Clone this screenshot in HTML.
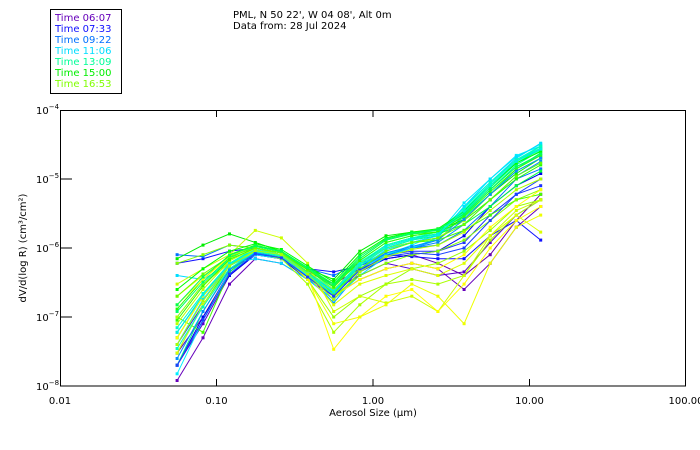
<!DOCTYPE html>
<html><head><meta charset="utf-8"><style>
body{margin:0;background:#fff;}
svg{display:block;font-family:"DejaVu Sans","Liberation Sans",sans-serif;}
</style></head><body>
<svg id="chart" width="700" height="450" viewBox="0 0 700 450" xmlns="http://www.w3.org/2000/svg">
<rect width="700" height="450" fill="#fff"/>
<g>
<rect x="50.5" y="9.5" width="71" height="84" fill="#fff" stroke="#000"/>
<g font-size="10">
<text x="55" y="21" fill="#6600bb">Time 06:07</text>
<text x="55" y="32" fill="#1010ff">Time 07:33</text>
<text x="55" y="43" fill="#0070ff">Time 09:22</text>
<text x="55" y="54" fill="#00ddff">Time 11:06</text>
<text x="55" y="65" fill="#00ff99">Time 13:09</text>
<text x="55" y="76" fill="#00ee00">Time 15:00</text>
<text x="55" y="87" fill="#80ff00">Time 16:53</text>
</g></g>
<text x="233" y="18" font-size="10">PML, N 50 22', W 04 08', Alt 0m</text>
<text x="233" y="29" font-size="10">Data from: 28 Jul 2024</text>
<g id="series"></g>
<rect x="60.5" y="110.5" width="625" height="275.5" fill="none" stroke="#000"/>
<g id="axes"></g>
<text x="373" y="416" font-size="10" text-anchor="middle">Aerosol Size (μm)</text>
<text transform="translate(26,248) rotate(-90)" font-size="10" text-anchor="middle">dV/d(log R) (cm³/cm²)</text>
</svg>
<script>
// sizes (um), values in units of 1e-6 cm3/cm2
const sizes=[0.056,0.082,0.121,0.177,0.26,0.382,0.561,0.823,1.21,1.77,2.6,3.82,5.61,8.23,11.8];
const xTicks=[0.01,0.1,1,10,100];
const xTickLabels=["0.01","0.10","1.00","10.00","100.00"];
const yTickExps=[-4,-5,-6,-7,-8];
const seriesColors=["#6600bb","#5500cc","#6a00aa","#1010ff","#1a30ff","#0000ee","#0070ff","#0088ff","#00a0ff","#00ddff","#00eeff","#00ccee","#00ff99","#00ffaa","#00ff80","#00ee00","#22ff00","#00ff40","#44ff00","#80ff00","#99ff00","#aaff00","#ccff00","#ffff00","#eeff00","#ddff00","#ffff00","#bbff00","#00ffcc","#00e0ff","#00ff66","#00ff00","#33ff00","#00ffbb","#0090ff","#66ff00","#00f0e0","#00ff55","#1a40ff","#aaff00"];
const s1=[0.012,0.05,0.3,0.7,0.6,0.35,0.2,0.35,0.5,0.6,0.5,0.25,0.6,2,4];
const s2=[0.02,0.08,0.4,0.8,0.7,0.4,0.25,0.4,0.6,0.5,0.4,0.45,1.2,3,5];
const s3=[0.03,0.1,0.45,0.85,0.75,0.45,0.3,0.5,0.7,0.8,0.6,0.4,0.8,2.5,6];
const s4=[0.6,0.7,0.9,1.0,0.85,0.5,0.45,0.55,0.8,0.75,0.7,0.7,1.5,2.5,1.3];
const s5=[0.04,0.15,0.5,0.85,0.75,0.4,0.22,0.5,0.8,0.9,0.9,1.2,3,6,8];
const s6=[0.02,0.1,0.4,0.8,0.7,0.35,0.18,0.45,0.7,0.8,0.9,1.5,4,8,12];
const s7=[0.8,0.75,1.1,1.0,0.8,0.5,0.4,0.6,0.8,1.0,1.1,1.8,4,10,14];
const s8=[0.05,0.2,0.55,0.9,0.75,0.4,0.2,0.5,0.85,1.0,1.2,2.2,5,11,18];
const s9=[0.03,0.15,0.5,0.85,0.7,0.38,0.16,0.45,0.8,1.0,1.3,3,7,15,22];
const s10=[0.4,0.35,0.6,0.7,0.6,0.35,0.18,0.4,0.75,1.0,1.4,4,9,20,33];
const s11=[0.015,0.09,0.45,0.8,0.7,0.4,0.2,0.5,0.8,1.1,1.6,4.5,10,22,30];
const s12=[0.06,0.2,0.6,0.9,0.8,0.45,0.25,0.55,0.9,1.2,1.5,3.5,8,18,28];
const s13=[0.05,0.2,0.6,1.0,0.85,0.5,0.25,0.6,1.1,1.4,1.6,3.5,8,18,30];
const s14=[0.1,0.3,0.7,1.1,0.9,0.5,0.3,0.65,1.2,1.5,1.7,3,7,16,26];
const s15=[0.02,0.12,0.5,0.9,0.8,0.45,0.22,0.55,1.0,1.3,1.5,2.8,6,14,24];
const s16=[0.7,1.1,1.6,1.2,0.9,0.5,0.35,0.9,1.5,1.7,1.8,2.6,6,12,20];
const s17=[0.13,0.35,0.8,1.1,0.9,0.5,0.3,0.7,1.3,1.6,1.7,2.5,5,10,16];
const s18=[0.03,0.15,0.55,1.0,0.85,0.45,0.22,0.6,1.1,1.4,1.6,2.2,4,8,13];
const s19=[0.1,0.06,0.45,0.9,0.8,0.5,0.3,0.6,1.0,1.2,1.3,1.8,3,5,6];
const s20=[0.6,0.8,1.1,1.0,0.8,0.45,0.2,0.4,0.6,0.8,0.9,1.3,2.5,5,7];
const s21=[0.05,0.2,0.55,0.9,0.75,0.35,0.1,0.2,0.3,0.5,0.6,0.9,1.8,4,5];
const s22=[0.1,0.3,0.6,0.85,0.7,0.3,0.06,0.15,0.3,0.35,0.3,0.4,1.3,3,5];
const s23=[0.3,0.5,0.8,1.8,1.4,0.6,0.12,0.2,0.16,0.2,0.12,0.4,1.5,3.5,5];
const s24=[0.05,0.2,0.6,0.9,0.8,0.4,0.034,0.1,0.2,0.25,0.12,0.3,1.0,2.5,4];
const s25=[0.2,0.4,0.7,0.95,0.8,0.35,0.08,0.1,0.15,0.3,0.2,0.08,0.6,2,3];
const s26=[0.03,0.15,0.5,0.9,0.8,0.4,0.15,0.3,0.4,0.5,0.4,0.6,1.5,3,1.7];
const s27=[0.15,0.35,0.75,1.05,0.9,0.5,0.2,0.35,0.5,0.6,0.5,0.8,2,4,7];
const s28=[0.08,0.25,0.65,1.0,0.85,0.45,0.25,0.6,1.0,1.2,1.4,2.5,6,13,20];
const s29=[0.07,0.22,0.6,0.95,0.8,0.45,0.24,0.62,1.1,1.4,1.7,3.8,9,19,28];
const s30=[0.04,0.18,0.55,0.85,0.72,0.4,0.2,0.5,0.95,1.2,1.5,4,10,21,32];
const s31=[0.12,0.32,0.72,1.05,0.88,0.5,0.28,0.7,1.3,1.6,1.8,3.2,7.5,17,27];
const s32=[0.25,0.5,0.9,1.15,0.95,0.55,0.32,0.8,1.4,1.7,1.9,3.4,8,17,25];
const s33=[0.09,0.28,0.68,1.0,0.85,0.48,0.27,0.66,1.2,1.5,1.7,2.9,6.5,14,22];
const s34=[0.035,0.14,0.5,0.88,0.76,0.42,0.21,0.55,1.0,1.3,1.6,3.6,8.5,19,30];
const s35=[0.025,0.12,0.48,0.85,0.72,0.38,0.2,0.5,0.85,1.05,1.3,2.6,6,13,20];
const s36=[0.2,0.42,0.75,1.0,0.85,0.45,0.22,0.5,0.9,1.2,1.4,2.2,5,11,17];
const s37=[0.06,0.21,0.58,0.92,0.78,0.43,0.23,0.58,1.05,1.35,1.6,3.3,8,18,27];
const s38=[0.15,0.38,0.78,1.08,0.9,0.52,0.3,0.75,1.35,1.65,1.85,3.1,7,15,23];
const s39=[0.02,0.09,0.42,0.82,0.72,0.38,0.2,0.48,0.75,0.85,0.8,1.0,2.5,6,10];
const s40=[0.04,0.17,0.55,0.92,0.8,0.42,0.18,0.45,0.75,0.95,1.1,1.7,3.5,7,10];
const allSeries=[s1,s2,s3,s4,s5,s6,s7,s8,s9,s10,s11,s12,s13,s14,s15,s16,s17,s18,s19,s20,s21,s22,s23,s24,s25,s26,s27,s28,s29,s30,s31,s32,s33,s34,s35,s36,s37,s38,s39,s40];

const NS="http://www.w3.org/2000/svg";
function xS(v){return 60+156.5*(Math.log10(v)+2);}
function yScale(u){return 110+69*(-4-(Math.log10(u)-6));}
const sg=document.getElementById('series');
allSeries.forEach((vals,i)=>{
  const c=seriesColors[i%seriesColors.length];
  const pl=document.createElementNS(NS,'polyline');
  pl.setAttribute('points',vals.map((v,j)=>xS(sizes[j]).toFixed(1)+','+yScale(v).toFixed(1)).join(' '));
  pl.setAttribute('fill','none');pl.setAttribute('stroke',c);pl.setAttribute('stroke-width','1');
  
  
  sg.appendChild(pl);
  vals.forEach((v,j)=>{
    const r=document.createElementNS(NS,'rect');
    r.setAttribute('x',(xS(sizes[j])-1.5).toFixed(1));r.setAttribute('y',(yScale(v)-1.5).toFixed(1));
    r.setAttribute('width','3');r.setAttribute('height','3');r.setAttribute('fill',c);
    
    
    sg.appendChild(r);
  });
});
const ax=document.getElementById('axes');
xTicks.forEach((t,i)=>{
  const x=xS(t);
  if(i>0&&i<xTicks.length-1){
    const l=document.createElementNS(NS,'line');
    l.setAttribute('x1',x);l.setAttribute('x2',x);l.setAttribute('y1',386);l.setAttribute('y2',379);l.setAttribute('stroke','#000');
    
    
    ax.appendChild(l);
    const l2=document.createElementNS(NS,'line');
    l2.setAttribute('x1',x);l2.setAttribute('x2',x);l2.setAttribute('y1',111);l2.setAttribute('y2',117);l2.setAttribute('stroke','#000');
    
    
    ax.appendChild(l2);
  }
  const tx=document.createElementNS(NS,'text');
  tx.setAttribute('x',x);tx.setAttribute('y',404);tx.setAttribute('font-size','10');tx.setAttribute('text-anchor','middle');
  tx.textContent=xTickLabels[i];
  
  
  ax.appendChild(tx);
});
yTickExps.forEach((e,i)=>{
  const y=110+69*(-4-e);
  if(i>0&&i<yTickExps.length-1){
    const l=document.createElementNS(NS,'line');
    l.setAttribute('x1',61);l.setAttribute('x2',72);l.setAttribute('y1',y);l.setAttribute('y2',y);l.setAttribute('stroke','#000');
    
    
    ax.appendChild(l);
  }
  const tx=document.createElementNS(NS,'text');
  tx.setAttribute('x',36);tx.setAttribute('y',y+4);tx.setAttribute('font-size','10');
  tx.innerHTML='10<tspan font-size="7" dy="-5">'+String(e).replace('-','−')+'</tspan>';
  
  
  ax.appendChild(tx);
});
</script>
</body></html>
